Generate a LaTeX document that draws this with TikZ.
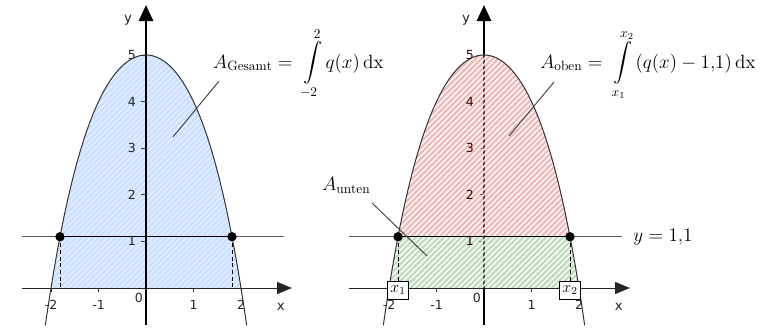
\documentclass[tikz,border=0pt]{standalone}
\usepackage{fontspec}
\usepackage{amsmath}
\newfontfamily\tickfont{DejaVu Sans}
\usetikzlibrary{arrows.meta,patterns.meta}
\definecolor{bluefill}{RGB}{204,224,255}
\definecolor{redfill}{RGB}{222,120,120}
\definecolor{greenfill}{RGB}{128,186,122}
\definecolor{guidegray}{RGB}{90,90,90}
\begin{document}
\begin{tikzpicture}[x=0.75pt,y=-0.75pt,
  declare function={qq(\t)=5-(11/12)*(\t)*(\t)-(\t)*(\t)*(\t)*(\t)/12;},
  xaxis/.style={draw=black!85, line width=0.7pt, -{Triangle[length=11pt,width=9pt]}},
  yaxis/.style={draw=black, line width=0.8pt, -{Triangle[length=12pt,width=11pt]}},
  guide/.style={draw=guidegray, line width=0.7pt},
  tickmark/.style={draw=black!80, line width=0.6pt},
  ticklabel/.style={font=\tickfont\fontsize{9.4}{11}\selectfont, text=black!85, inner sep=0pt},
  axislabel/.style={font=\tickfont\fontsize{10}{12}\selectfont, text=black!85, inner sep=0pt},
  curve/.style={draw=black!80, line width=0.75pt},
  level/.style={draw=black, line width=0.9pt},
  dot/.style={circle, fill=black, inner sep=0pt, minimum size=7pt},
  drop/.style={draw=black, line width=0.7pt, dash pattern=on 3pt off 2pt},
  leader/.style={draw=black!75, line width=0.7pt},
  formula/.style={anchor=base west, inner sep=0pt, font=\fontsize{14.4}{16}\selectfont},
  xbox/.style={draw=black, fill=white, line width=0.6pt, minimum width=15.75pt, minimum height=13.5pt, inner sep=0pt, font=\fontsize{12}{14}\selectfont},
  hatchthin/.style={pattern={Lines[angle=45,distance=3pt,line width=0.4pt]}, pattern color=white},
  hatchthick/.style={pattern={Lines[angle=45,distance=3pt,line width=1pt]}, pattern color=white}
]
\useasboundingbox (0,0) rectangle (778,328);

% ---------------- left plot ----------------
\begin{scope}[shift={(146,288)}, x=35.625pt, y=34.95pt]
  \path[fill=bluefill, postaction={hatchthin}] (-2,0) -- plot[domain=-2:2,samples=90] (\x,{qq(\x)}) -- cycle;
  \draw[guide] (-2.61,1.1) -- (2.9,1.1);
  \draw[xaxis] (-2.61,0) -- (3.07,0);
  \draw[yaxis] (0,-0.79) -- (0,6.07);
  \foreach \k in {1,...,5} \draw[tickmark] (-0.1,\k) -- (0,\k);
  \foreach \k in {-2,-1,1,2} \draw[tickmark] (\k,0) -- (\k,-0.09);
  \draw[curve] plot[domain=-2.12:2.12,samples=120] (\x,{qq(\x)});
  \node[dot] (lp1) at (-1.8105,1.1) {};
  \node[dot] (lp2) at (1.8105,1.1) {};
  \coordinate (lb1) at (-1.8105,0);
  \coordinate (lb2) at (1.8105,0);
  \draw[level] (lp1.center) -- (lp2.center);
  \draw[drop] (lp1.center) -- (lb1);
  \draw[drop] (lp2.center) -- (lb2);
  \node[ticklabel] (lxa) at (-2,-0.36) {-2};
  \node[ticklabel] (lxb) at (-1,-0.36) {-1};
  \node[ticklabel] (lxc) at (1,-0.36) {1};
  \node[ticklabel] (lxd) at (2,-0.36) {2};
  \node[ticklabel] (lxo) at (-0.15,-0.22) {0};
  \foreach \k in {1,...,5} \node[ticklabel] (ly\k) at (-0.3,\k) {\k};
  \node[axislabel] (lxl) at (2.84,-0.40) {x};
  \node[axislabel] (lyl) at (-0.38,5.75) {y};
  \node[formula] (Ages) at (1.41,4.72) {$A_{\mathrm{Gesamt}} = \;\displaystyle\int\limits_{-2}^{2} q(x)\,\mathrm{dx}$};
  \coordinate (lg1) at (1.537,4.44);
  \coordinate (lg2) at (0.568,3.24);
  \draw[leader] (lg1) -- (lg2);
\end{scope}

% ---------------- right plot ----------------
\begin{scope}[shift={(484,288)}, x=35.625pt, y=34.95pt]
  \draw[guide] (-2.84,1.1) -- (2.9,1.1);
  \draw[xaxis] (-2.84,0) -- (3.07,0);
  \draw[yaxis] (0,-0.79) -- (0,6.07);
  \foreach \k in {1,...,5} \draw[tickmark] (-0.1,\k) -- (0,\k);
  \foreach \k in {-2,-1,1,2} \draw[tickmark] (\k,0) -- (\k,-0.09);
  \path[fill=redfill, fill opacity=0.5, postaction={hatchthick}] (-1.8105,1.1) -- plot[domain=-1.8105:1.8105,samples=90] (\x,{qq(\x)}) -- cycle;
  \path[fill=greenfill, fill opacity=0.5, postaction={hatchthick}] (-2,0) -- plot[domain=-2:-1.8105,samples=10] (\x,{qq(\x)}) -- plot[domain=1.8105:2,samples=10] (\x,{qq(\x)}) -- cycle;
  \foreach \k in {1,...,5} \node[ticklabel, text=black!70!red!90!black] (ry\k) at (-0.3,\k) {\k};
  \draw[curve] plot[domain=-2.12:2.12,samples=120] (\x,{qq(\x)});
  \node[dot] (rp1) at (-1.8105,1.1) {};
  \node[dot] (rp2) at (1.8105,1.1) {};
  \coordinate (rb1) at (-1.8105,0);
  \coordinate (rb2) at (1.8105,0);
  \draw[level] (rp1.center) -- (rp2.center);
  \draw[drop] (rp1.center) -- (rb1);
  \draw[drop] (rp2.center) -- (rb2);
  \node[ticklabel] (rxa) at (-2,-0.36) {-2};
  \node[ticklabel] (rxb) at (-1,-0.36) {-1};
  \node[ticklabel] (rxc) at (1,-0.36) {1};
  \node[ticklabel] (rxd) at (2,-0.36) {2};
  \node[ticklabel] (rxo) at (-0.15,-0.22) {0};
  \node[axislabel] (rxl) at (2.84,-0.40) {x};
  \node[axislabel] (ryl) at (-0.38,5.75) {y};
  \node[xbox] (bx1) at (-1.81,-0.05) {$x_1$};
  \node[xbox] (bx2) at (1.81,-0.05) {$x_2$};
  \node[formula] (Aob) at (1.18,4.72) {$A_{\mathrm{oben}} = \;\displaystyle\int\limits_{x_1}^{x_2}\, (q(x) - 1{,}1)\,\mathrm{dx}$};
  \coordinate (ro1) at (1.474,4.42);
  \coordinate (ro2) at (0.526,3.26);
  \draw[leader] (ro1) -- (ro2);
  \node[formula] (Aun) at (-3.41,2.10) {$A_{\mathrm{unten}}$};
  \coordinate (ru1) at (-2.358,1.824);
  \coordinate (ru2) at (-1.2,0.687);
  \draw[leader] (ru1) -- (ru2);
  \node[formula] (ylev) at (3.14,0.99) {$y = 1{,}1$};
\end{scope}
\end{tikzpicture}
\end{document}
